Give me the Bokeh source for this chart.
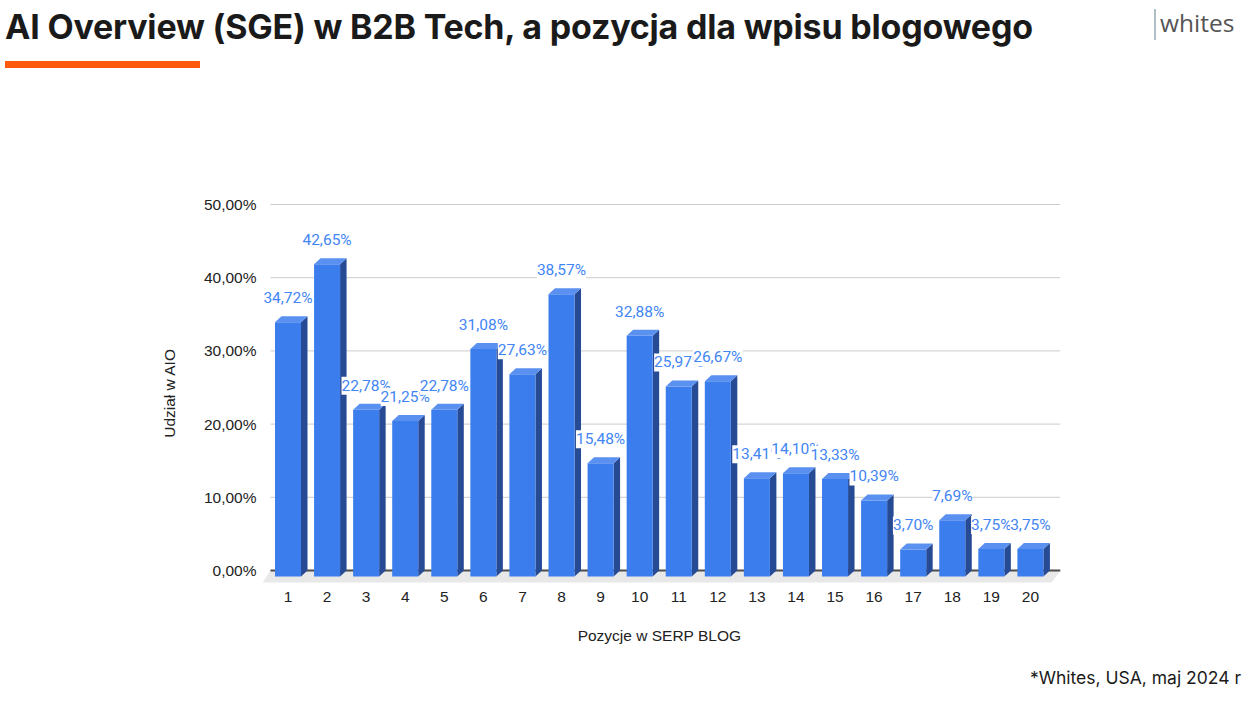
from bokeh.plotting import figure
from bokeh.layouts import column
from bokeh.models import FixedTicker, Range1d, ColumnDataSource, Div
from bokeh.core.properties import value
from bokeh.embed import file_html
from bokeh.resources import INLINE

# ---- data ----
positions = list(range(1, 21))
shares = [34.72, 42.65, 22.78, 21.25, 22.78, 31.08, 27.63, 38.57, 15.48, 32.88,
          25.97, 26.67, 13.41, 14.10, 13.33, 10.39, 3.70, 7.69, 3.75, 3.75]
y_ticks = [0, 10, 20, 30, 40, 50]
y_tick_labels = ["0,00%", "10,00%", "20,00%", "30,00%", "40,00%", "50,00%"]
title_text = "AI Overview (SGE) w B2B Tech, a pozycja dla wpisu blogowego"
x_title = "Pozycje w SERP BLOG"
y_title = "Udział w AIO"
source_note = "*Whites, USA, maj 2024 r"
logo_text = "whites"

# ---- styling constants ----
FRONT = "#3b7ded"
SIDE = "#264a94"
TOP = "#5a91f0"
LABEL_BLUE = "#4285f4"
W = 0.666      # bar front width (category units)
DX = 0.166     # depth offset x (category units)
DY = 0.82      # depth offset y (value units)
PAGE_W = 1242

# ---- header (title, accent bar, logo) ----
head_html = f"""
<div style="position:relative;width:{PAGE_W}px;height:80px;overflow:hidden;background:white;">
  <div style="position:absolute;left:5px;top:10px;font-family:Inter;font-weight:700;
       font-size:34px;line-height:1;color:#1a1a1a;white-space:nowrap;letter-spacing:-0.2px;">{title_text}</div>
  <div style="position:absolute;left:5px;top:61px;width:195px;height:6.5px;background:#ff5a0a;"></div>
  <div style="position:absolute;left:1154px;top:9px;width:1.5px;height:31px;background:#b0bec5;"></div>
  <div style="position:absolute;left:1160px;top:11px;font-family:'Open Sans';font-size:24.5px;
       line-height:1;color:#555555;white-space:nowrap;">{logo_text}</div>
</div>
"""
head = Div(text=head_html, width=PAGE_W, height=80, margin=(0, 0, 0, 0))

# ---- main chart ----
X0, X1 = 0.552, 20.77
p = figure(width=PAGE_W, height=580, output_backend="svg", toolbar_location=None,
           x_range=Range1d(0.245, X1), y_range=Range1d(-2.049, 50.546),
           min_border_left=258, min_border_right=182, min_border_top=120,
           min_border_bottom=75, margin=(0, 0, 0, 0))
p.outline_line_color = None
p.background_fill_color = "white"
p.border_fill_color = "white"
p.grid.visible = False

p.yaxis.ticker = FixedTicker(ticks=y_ticks)
p.yaxis.major_label_overrides = {t: s for t, s in zip(y_ticks, y_tick_labels)}
p.xaxis.ticker = FixedTicker(ticks=positions)
for ax in (p.xaxis[0], p.yaxis[0]):
    ax.axis_line_color = None
    ax.major_tick_line_color = None
    ax.minor_tick_line_color = None
    ax.major_tick_out = 0
    ax.major_tick_in = 0
    ax.major_label_text_font = "Liberation Sans"
    ax.major_label_text_font_size = "15.5px"
    ax.major_label_text_color = "#222222"
    ax.axis_label_text_font = "Liberation Sans"
    ax.axis_label_text_font_size = "15.5px"
    ax.axis_label_text_font_style = "normal"
    ax.axis_label_text_color = "#222222"
p.xaxis.axis_label = x_title
p.yaxis.axis_label = y_title
p.xaxis.major_label_standoff = 6
p.yaxis.major_label_standoff = 2
p.xaxis.axis_label_standoff = 22
p.yaxis.axis_label_standoff = 23

# gridlines (only across the plotting area)
p.segment(x0=[X0] * len(y_ticks), x1=[X1] * len(y_ticks), y0=y_ticks, y1=y_ticks,
          line_color="#cccccc", line_width=1)
# floor
p.patch(x=[X0, X1, X1 - 0.23, X0 - 0.2], y=[0, 0, -1.64, -1.64],
        fill_color="#e8e8e8", line_color=None)
# baseline (back plane zero)
p.line(x=[X0, X1], y=[0, 0], line_color="#4d4d4d", line_width=2)

# 3D bars
front_src = ColumnDataSource(dict(x=positions, top=[v - DY for v in shares],
                                  bottom=[-DY] * len(shares)))
side_xs, side_ys, top_xs, top_ys = [], [], [], []
for xp, v in zip(positions, shares):
    r = xp + W / 2
    l = xp - W / 2
    side_xs.append([r, r + DX, r + DX, r])
    side_ys.append([-DY, 0, v, v - DY])
    top_xs.append([l, r, r + DX, l + DX])
    top_ys.append([v - DY, v - DY, v, v])
p.patches(xs=side_xs, ys=side_ys, fill_color=SIDE, line_color=None)
p.vbar(x="x", top="top", bottom="bottom", width=W, source=front_src,
       fill_color=FRONT, line_color=None)
p.patches(xs=top_xs, ys=top_ys, fill_color=TOP, line_color=None)

# data labels
lab_src = ColumnDataSource(dict(
    x=positions, y=shares,
    t=[f"{v:.2f}".replace(".", ",") + "%" for v in shares]))
p.text(x="x", y="y", text="t", source=lab_src, y_offset=-18,
       text_align="center", text_baseline="middle",
       text_font=value("Roboto"), text_font_size="15.5px", text_color=LABEL_BLUE,
       background_fill_color="white")

# ---- footer (source note) ----
foot_html = f"""
<div style="position:relative;width:{PAGE_W}px;height:29px;overflow:hidden;background:white;">
  <div style="position:absolute;right:1px;top:9px;font-family:Inter;font-size:17.5px;
       line-height:1;color:#1a1a1a;white-space:nowrap;">{source_note}</div>
</div>
"""
foot = Div(text=foot_html, width=PAGE_W, height=29, margin=(0, 0, 0, 0))

layout = column(head, p, foot, spacing=0)
open("out.html", "w").write(file_html(layout, INLINE))
